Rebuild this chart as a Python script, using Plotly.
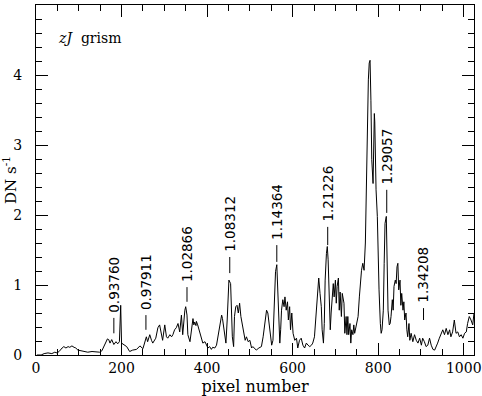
import plotly.graph_objects as go

# spectrum: pixel number vs DN/s
pixel = [2, 12, 19, 28, 37, 44, 49, 54, 61, 65,
         70, 75, 79, 84, 89, 93, 98, 105, 112, 121,
         131, 140, 149, 154, 159, 163, 167, 170, 173, 177,
         182, 187, 191, 195, 198, 200, 205, 212, 219, 226,
         235, 243, 250, 254, 258, 261, 266, 270, 273, 280,
         285, 289, 293, 296, 301, 305, 308, 313, 317, 320,
         324, 328, 332, 336, 340, 343, 348, 350, 353, 355,
         360, 364, 367, 369, 371, 374, 375, 378, 383, 387,
         390, 395, 399, 402, 406, 410, 413, 418, 422, 425,
         430, 434, 436, 439, 441, 444, 447, 449, 451, 455,
         457, 459, 462, 464, 467, 470, 473, 476, 479, 482,
         486, 489, 492, 496, 500, 504, 507, 511, 515, 521,
         527, 531, 535, 539, 542, 545, 548, 551, 554, 558,
         560, 563, 565, 567, 570, 572, 574, 577, 580, 582,
         585, 588, 590, 593, 595, 598, 601, 605, 609, 612,
         616, 620, 624, 628, 632, 636, 640, 644, 647, 651,
         655, 659, 661, 664, 667, 669, 672, 674, 676, 679,
         681, 683, 686, 688, 690, 693, 695, 697, 700, 702,
         704, 707, 709, 711, 714, 716, 720, 722, 725, 727,
         729, 731, 734, 736, 738, 741, 743, 745, 749, 753,
         756, 759, 761, 764, 767, 770, 772, 774, 777, 779,
         781, 783, 785, 788, 789, 791, 792, 794, 795, 798,
         800, 802, 805, 807, 809, 812, 814, 816, 819, 821,
         823, 826, 828, 830, 833, 835, 837, 840, 842, 844,
         846, 848, 851, 853, 855, 858, 860, 862, 865, 867,
         869, 872, 874, 877, 881, 885, 889, 893, 897, 901,
         904, 908, 912, 916, 920, 924, 928, 932, 936, 939,
         943, 947, 951, 955, 959, 963, 967, 970, 974, 978,
         982, 986, 990, 994, 998, 1002, 1006, 1009, 1013, 1017,
         1021, 1024]

flux = [0.00, 0.00, 0.02, 0.03, 0.02, 0.04, 0.03, 0.05, 0.10, 0.12,
        0.10, 0.12, 0.11, 0.13, 0.11, 0.10, 0.07, 0.06, 0.05, 0.04,
        0.05, 0.04, 0.04, 0.06, 0.12, 0.19, 0.23, 0.22, 0.17, 0.22,
        0.15, 0.19, 0.16, 0.19, 0.71, 0.17, 0.15, 0.12, 0.05, 0.07,
        0.08, 0.13, 0.09, 0.19, 0.26, 0.19, 0.29, 0.21, 0.17, 0.24,
        0.39, 0.43, 0.31, 0.21, 0.43, 0.26, 0.24, 0.29, 0.26, 0.29,
        0.36, 0.39, 0.45, 0.33, 0.57, 0.29, 0.64, 0.69, 0.57, 0.29,
        0.19, 0.36, 0.52, 0.43, 0.47, 0.42, 0.48, 0.43, 0.33, 0.26,
        0.17, 0.19, 0.14, 0.10, 0.12, 0.08, 0.11, 0.10, 0.14, 0.24,
        0.40, 0.57, 0.52, 0.40, 0.26, 0.17, 0.50, 0.93, 1.07, 1.02,
        0.69, 0.26, 0.12, 0.55, 0.69, 0.71, 0.60, 0.74, 0.55, 0.45,
        0.31, 0.21, 0.26, 0.19, 0.21, 0.10, 0.12, 0.10, 0.07, 0.10,
        0.12, 0.26, 0.45, 0.64, 0.60, 0.45, 0.31, 0.14, 0.21, 0.88,
        1.19, 1.29, 0.98, 0.50, 0.17, 0.36, 0.64, 0.79, 0.69, 0.83,
        0.64, 0.76, 0.50, 0.69, 0.36, 0.60, 0.31, 0.21, 0.24, 0.10,
        0.21, 0.24, 0.14, 0.10, 0.17, 0.14, 0.12, 0.14, 0.17, 0.26,
        0.55, 0.90, 1.10, 0.88, 0.69, 0.36, 0.17, 0.45, 1.07, 1.45,
        1.55, 1.36, 0.88, 0.36, 0.60, 0.88, 1.02, 0.83, 1.07, 0.74,
        0.98, 1.10, 0.64, 0.90, 0.55, 0.88, 0.74, 0.31, 0.55, 0.29,
        0.55, 0.29, 0.45, 0.17, 0.36, 0.29, 0.43, 0.31, 0.45, 0.55,
        0.83, 1.07, 1.21, 1.31, 1.21, 1.60, 2.45, 3.40, 3.93, 4.17,
        4.21, 3.64, 2.79, 2.45, 2.93, 3.45, 3.33, 2.69, 2.36, 1.98,
        1.26, 0.93, 0.45, 0.31, 0.36, 0.64, 1.31, 1.88, 1.98, 1.40,
        0.64, 0.43, 0.45, 0.55, 0.79, 0.64, 0.98, 1.07, 1.02, 1.26,
        1.31, 0.93, 1.07, 0.71, 0.88, 0.64, 0.76, 0.50, 0.60, 0.36,
        0.26, 0.45, 0.21, 0.31, 0.19, 0.29, 0.21, 0.17, 0.24, 0.14,
        0.24, 0.19, 0.12, 0.14, 0.24, 0.14, 0.08, 0.07, 0.12, 0.17,
        0.24, 0.31, 0.36, 0.29, 0.38, 0.29, 0.36, 0.26, 0.33, 0.50,
        0.31, 0.33, 0.26, 0.29, 0.24, 0.31, 0.33, 0.45, 0.55, 0.50,
        0.43, 0.60]

# line identifications (wavelength in microns)
line_labels = ["0.93760", "0.97911", "1.02866", "1.08312",
               "1.14364", "1.21226", "1.29057", "1.34208"]
line_pixel = [182, 257, 353, 453, 563, 682, 820, 906]
line_low = [0.31, 0.36, 0.76, 1.17, 1.33, 1.57, 2.03, 0.50]
line_high = [0.53, 0.57, 0.97, 1.40, 1.57, 1.83, 2.36, 0.67]

x_major = [0, 200, 400, 600, 800, 1000]
y_major = [0, 1, 2, 3, 4, 5]

fig = go.Figure()
fig.add_trace(go.Scatter(x=pixel, y=flux, mode="lines",
                         line=dict(color="black", width=1),
                         hoverinfo="skip", showlegend=False))

mx, my = [], []
for p, lo, hi in zip(line_pixel, line_low, line_high):
    mx += [p, p, None]
    my += [lo, hi, None]
fig.add_trace(go.Scatter(x=mx, y=my, mode="lines",
                         line=dict(color="black", width=1),
                         hoverinfo="skip", showlegend=False))

for lab, p, hi in zip(line_labels, line_pixel, line_high):
    fig.add_annotation(x=p, y=hi, text=lab, textangle=-90, showarrow=False,
                       xanchor="center", yanchor="bottom", yshift=3,
                       font=dict(family="DejaVu Sans", size=13.5, color="black"))

fig.add_annotation(x=0.045, y=0.905, xref="paper", yref="paper",
                   text="<i>zJ</i>  grism", showarrow=False,
                   xanchor="left", yanchor="middle",
                   font=dict(family="DejaVu Serif", size=14, color="black"))

fig.update_xaxes(range=[0, 1024], tickmode="array", tickvals=x_major,
                 showgrid=False, zeroline=False, showline=True,
                 linecolor="black", linewidth=1, mirror="ticks",
                 ticks="inside", ticklen=12, tickwidth=1, tickcolor="black",
                 minor=dict(dtick=50, ticks="inside", ticklen=6,
                            tickwidth=1, tickcolor="black", showgrid=False),
                 tickfont=dict(family="DejaVu Serif", size=14, color="black"),
                 title=dict(text="pixel number", standoff=8,
                            font=dict(family="DejaVu Serif", size=16, color="black")))
fig.update_yaxes(range=[0, 5], tickmode="array", tickvals=y_major,
                 showgrid=False, zeroline=False, showline=True,
                 linecolor="black", linewidth=1, mirror="ticks",
                 ticks="inside", ticklen=12, tickwidth=1, tickcolor="black",
                 minor=dict(dtick=0.2, ticks="inside", ticklen=6,
                            tickwidth=1, tickcolor="black", showgrid=False),
                 ticklabelstandoff=10,
                 tickfont=dict(family="DejaVu Serif", size=14, color="black"),
                 title=dict(text="DN s<sup>-1</sup>", standoff=4,
                            font=dict(family="DejaVu Serif", size=15, color="black")))

fig.update_layout(width=482, height=396,
                  margin=dict(l=36, r=8, t=5, b=41, autoexpand=False),
                  paper_bgcolor="white", plot_bgcolor="white")

fig.write_html("out.html", config={"displayModeBar": False},
               post_script="document.body.style.margin='0';document.body.style.padding='0';")
